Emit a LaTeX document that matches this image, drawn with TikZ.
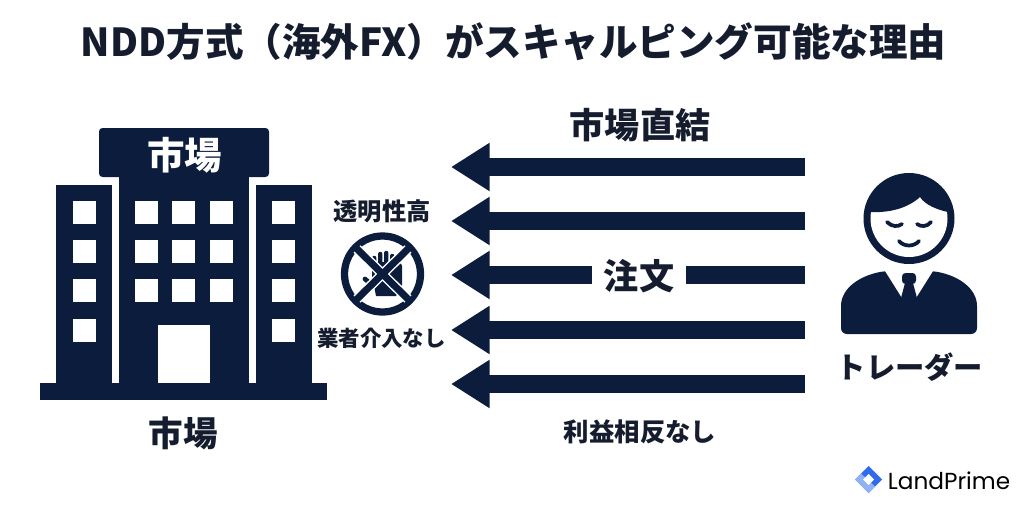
\documentclass[tikz,border=0pt]{standalone}
\usepackage{fontspec}
\usetikzlibrary{arrows.meta, positioning}
\newfontfamily\jpfont{Noto Sans CJK JP}
\newfontfamily\logofont{Poppins}
\definecolor{navy}{HTML}{0B1C3D}
\definecolor{inkblack}{HTML}{141C2E}
\definecolor{logoblue}{HTML}{2F6BEA}
\definecolor{logopale}{HTML}{8FB2F4}
\tikzset{
  label/.style={text=inkblack, inner sep=0pt, font=\jpfont\bfseries\fontsize{#1}{#1}\selectfont},
  signlabel/.style={text=white, inner sep=0pt, font=\jpfont\bfseries\fontsize{#1}{#1}\selectfont},
  order/.style={draw=navy, line width=15.3pt, -{Triangle[length=33pt,width=39pt]}},
  orderplain/.style={draw=navy, line width=15.3pt},
  window/.style={fill=white}
}
\begin{document}
\begin{tikzpicture}[x=0.03cm, y=0.03cm]
\useasboundingbox (0,0) rectangle (1024,-505);
\fill [white] (0,0) rectangle (1024,-505);
% title
\node [label=32.9] (title) at (513.5,-42) {NDD方式（海外FX）がスキャルピング可能な理由};
% building
\fill [navy] (40,-383) rectangle (327,-400);
\fill [navy] (56,-185) rectangle (112,-383);
\fill [navy] (256,-185) rectangle (312,-383);
\fill [navy] (119,-170) rectangle (249,-383);
\fill [navy, rounded corners=3pt] (99,-128) rectangle (269,-177);
\foreach \y in {201,240,279,319} {
  \fill [window] (73,-\y) rectangle ++(23,-23);
  \fill [window] (272,-\y) rectangle ++(23,-23);
}
\foreach \y in {201,240,279} {
  \foreach \x in {135,172,210} {
    \fill [window] (\x,-\y) rectangle ++(23,-23);
  }
}
\fill [window] (158,-325) rectangle (210,-383);
\node [signlabel=32] (sign) at (184.5,-155) {市場};
\node [label=29.5] (market) at (183,-433) {市場};
% middle
\node [label=20.7] (clear) at (382,-211) {透明性高};
\node [label=18.3] (none) at (381.5,-338) {業者介入なし};
\draw [navy, line width=6.2pt] (382.5,-274) circle (38);
\fill [navy] (372,-276) -- (372,-258) arc (180:0:2.2) -- (376.4,-262) -- (378,-262) -- (378,-254) arc (180:0:2.2) -- (382.4,-262)
  -- (384,-262) -- (384,-253) arc (180:0:2.2) -- (388.4,-262) -- (390,-262) -- (390,-256) arc (180:0:2.2) -- (394.4,-268)
  -- (396,-268) -- (396,-266) arc (180:0:3) -- (402,-285) -- (396,-296) -- (376,-296) -- cycle;
\draw [navy, line width=4pt, line cap=round] (365,-279) -- (372,-285);
\draw [white, line width=8.5pt] (357,-249) -- (408,-299) (408,-249) -- (357,-299);
\draw [navy, line width=6pt] (355,-247) -- (410,-301) (410,-247) -- (355,-301);
% arrows
\node [label=30] (direct) at (640,-125) {市場直結};
\coordinate (from1) at (805,-167);
\coordinate (from2) at (805,-221);
\coordinate (from3) at (805,-275);
\coordinate (from4) at (805,-330);
\coordinate (from5) at (805,-384);
\coordinate (to1) at (451,-167);
\coordinate (to2) at (451,-221);
\coordinate (to3) at (451,-275);
\coordinate (to4) at (451,-330);
\coordinate (to5) at (451,-384);
\node [label=30] (order3) at (639,-276) {注文};
\coordinate (left3) at (592,-275);
\coordinate (right3) at (686,-275);
\draw [order] (from1) -- (to1);
\draw [order] (from2) -- (to2);
\draw [order] (left3) -- (to3);
\draw [orderplain] (from3) -- (right3);
\draw [order] (from4) -- (to4);
\draw [order] (from5) -- (to5);
\node [label=21.7] (profit) at (640,-432) {利益相反なし};
% trader
\fill [navy, rounded corners=5pt] (841,-334) -- (841,-312) .. controls (841,-288) and (860,-276) .. (885,-271)
  -- (933,-271) .. controls (958,-276) and (977,-288) .. (977,-312) -- (977,-334) -- cycle;
\fill [white] (885,-271) -- (902,-298) -- (909,-280) -- (916,-298) -- (933,-271) -- (925,-262) -- (893,-262) -- cycle;
\fill [navy, rounded corners=3pt] (902,-273) rectangle (916,-284);
\fill [navy] (905,-283) -- (913,-283) -- (917,-298) -- (901,-298) -- cycle;
\fill [navy] (909,-218.5) circle (45.5);
\fill [white] (909,-218.5) circle (38.5);
\fill [navy] (870,-210) .. controls (868,-190) and (885,-178) .. (909,-178) .. controls (935,-178) and (950,-190) .. (948,-212)
  .. controls (938,-210) and (925,-205) .. (920,-197) .. controls (908,-208) and (890,-213) .. (870,-212) -- cycle;
\draw [navy, line width=3.2pt, line cap=round] (887,-222) .. controls (892,-227) and (898,-227) .. (902,-224);
\draw [navy, line width=3.2pt, line cap=round] (917,-224) .. controls (921,-227) and (927,-227) .. (931,-222);
\draw [navy, line width=3.2pt, line cap=round] (899,-241) .. controls (904,-247) and (914,-247) .. (919,-241);
\node [label=25] (trader) at (910,-367) {トレーダー};
% logo
\fill [logoblue] (868.5,-466) -- (882,-479.5) -- (868.5,-493) -- (855,-479.5) -- cycle;
\fill [logopale] (868.5,-493) -- (855,-479.5) -- (861,-473.5) -- (875,-486.5) -- cycle;
\fill [white] (868.5,-474) -- (874,-479.5) -- (868.5,-485) -- (863,-479.5) -- cycle;
\node [inner sep=0pt, text=black, font=\logofont\fontsize{19.8}{19.8}\selectfont] (logo) at (949,-481) {LandPrime};
\end{tikzpicture}
\end{document}
